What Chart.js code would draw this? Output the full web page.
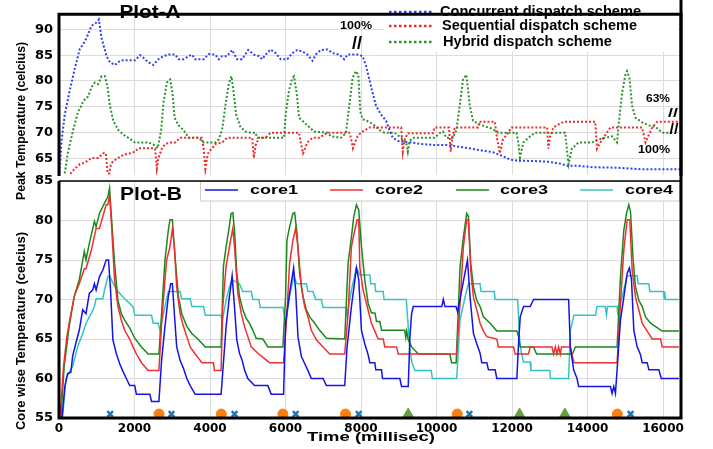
<!DOCTYPE html>
<html>
<head>
<meta charset="utf-8">
<title>Plot-A / Plot-B</title>
<script src="https://cdn.jsdelivr.net/npm/chart.js@4.4.1/dist/chart.umd.min.js"></script>
<style>
  html, body { margin: 0; padding: 0; background: #fff; }
  #wrap { position: relative; width: 713px; height: 449px; }
  #wrap canvas { position: absolute; left: 0; top: 0; }
</style>
</head>
<body>
<div id="wrap">
  <canvas id="plotA" width="713" height="449"></canvas>
  <canvas id="plotB" width="713" height="449"></canvas>
</div>
<script>
// Axis ticks
const timeTicks = [0, 2000, 4000, 6000, 8000, 10000, 12000, 14000, 16000];
const peakTicks = [65, 70, 75, 80, 85, 90];
const coreTicks = [55, 60, 65, 70, 75, 80, 85];

// Plot-A: peak temperature per dispatch scheme, [time ms, celcius]
const schemeNames = ["Concurrent dispatch scheme", "Sequential dispatch scheme", "Hybrid dispatch scheme"];
const concurrent = [[10,61.5],[63,68.1],[152,73.5],[285,78.2],[418,82.4],[551,86.2],[640,87.1],[728,88.3],[861,90.7],[994,91.3],[1056,91.9],[1127,88.3],[1260,84.8],[1349,83.6],[1482,83.1],[1615,83.9],[1704,84],[2014,84],[2147,85],[2236,84.5],[2369,83.6],[2502,83.1],[2635,84.2],[2768,84.8],[2901,85.1],[3078,85.1],[3167,84.2],[3300,84.2],[3433,84.8],[3522,85.1],[3610,84.2],[3832,84.2],[3965,85.2],[4142,85.1],[4231,84.2],[4320,84.8],[4453,84.8],[4585,86],[4718,84.2],[4851,84.2],[5011,86],[5162,85.1],[5295,84.8],[5383,84.2],[5472,85.1],[5605,86.1],[5738,85.4],[5871,84.2],[6048,84.2],[6181,85.4],[6314,86],[6447,85.7],[6580,85.1],[6713,83.9],[6802,85.1],[6935,86],[7112,86.1],[7245,85.4],[7423,85.1],[7556,84.2],[7644,85.1],[7910,85.1],[8043,84.8],[8132,83],[8221,80.3],[8309,77.6],[8398,75.2],[8531,73.5],[8664,72.3],[8753,70.5],[8841,69],[8974,68.4],[9152,68.2],[9329,68.1],[9595,67.8],[9950,67.6],[10304,67.6],[10659,67.2],[10925,66.9],[11147,66.6],[11501,66.2],[11767,65.4],[11945,64.8],[12122,64.6],[12565,64.5],[12920,64.4],[13274,64],[13452,63.6],[13718,63.6],[14161,63.3],[14782,63.2],[15226,63],[15491,62.9],[16450,62.9]];
const sequential = [[300,62],[418,63],[551,63.9],[684,64.2],[861,65.1],[1039,65.1],[1172,66],[1243,66],[1287,62.1],[1331,62.1],[1376,63.9],[1438,64.5],[1571,65.1],[1704,65.7],[1881,66],[2014,66.3],[2103,67],[2458,67],[2546,66.9],[2591,63],[2635,65.1],[2724,66.9],[2813,67.8],[2945,68.1],[3078,68.1],[3211,69],[3788,69],[3832,66.9],[3877,63],[3921,65.1],[3965,66.3],[4054,66.9],[4142,67.8],[4320,68.1],[4453,69],[5118,69],[5162,65.1],[5206,67.5],[5295,69],[5472,69],[5605,70],[6359,70],[6403,68.1],[6465,66],[6518,66.9],[6580,68.1],[6713,69],[6891,69],[7024,69.6],[7112,70],[7689,70],[7733,69],[7786,67],[7840,68.1],[7910,69.3],[7999,70],[8221,71],[9063,71],[9107,66.3],[9150,68.5],[9240,69.9],[9905,69.9],[9950,71],[10330,71],[10375,66.3],[10420,69],[10482,71],[11103,71],[11130,72.1],[11546,72.1],[11600,69],[11679,66],[11750,68.5],[11989,71],[12930,71],[12964,66.9],[13000,69],[13097,71],[13364,72.1],[14206,72.1],[14250,66.9],[14339,68.1],[14605,71],[15447,71],[15536,68.1],[15713,71],[15846,72.1],[16400,72.1]];
const hybrid = [[152,62.1],[241,66.3],[374,70.5],[507,74.1],[595,75.2],[640,76.1],[773,77],[861,78.8],[950,79.7],[1039,79.4],[1127,80.9],[1216,80.9],[1287,78.8],[1349,75.2],[1438,72.3],[1571,70.5],[1704,69.6],[1837,69],[2014,68.1],[2369,68.1],[2546,67.5],[2617,67],[2706,70.5],[2768,75.8],[2857,79.7],[2945,80.3],[3007,77.6],[3060,72.9],[3167,71.4],[3300,70.5],[3433,69],[3699,69],[3832,68.1],[4142,68.1],[4231,68.7],[4320,70.5],[4408,75.2],[4497,79.4],[4568,80.9],[4630,77.6],[4692,73.5],[4807,71.1],[4940,70.2],[5073,70],[5206,70],[5250,69],[5960,69],[6004,73.5],[6093,78.2],[6181,80.6],[6226,80.9],[6297,77.6],[6359,72.9],[6492,72],[6625,71.1],[6758,70.2],[7112,70],[7201,69.3],[7467,69],[7600,69.9],[7689,75.2],[7777,80.6],[7866,81.9],[7928,81.2],[7981,74.1],[8043,72.6],[8176,72.2],[8309,71.7],[8487,70.5],[8620,70],[8886,70],[9063,69],[9196,68.1],[9240,66.3],[9285,68.4],[9373,69],[9950,69],[10083,69.9],[10171,70.2],[10260,69],[10437,69],[10526,70.5],[10615,75.2],[10703,80.3],[10792,81.2],[10881,75.2],[10970,72.3],[11103,71.7],[11280,71.2],[11458,70.8],[11635,70],[12120,70],[12167,68.1],[12211,65.2],[12300,68.1],[12433,69],[12610,70],[13408,70],[13452,66.9],[13497,63.9],[13586,66.9],[13763,68.1],[14117,68.1],[14295,68.7],[14472,69],[14649,69.3],[14782,68.1],[14827,71.7],[14915,77.6],[15004,81.2],[15048,81.9],[15110,80.6],[15181,75.2],[15270,72.9],[15447,72],[15624,71.4],[15802,71.1],[15979,70],[16300,70]];

// Plot-B: per core temperature, [time ms, celcius]
const coreNames = ["core1", "core2", "core3", "core4"];
const core1 = [[80,55],[155,59],[226,60.6],[315,60.8],[360,62.8],[448,64.5],[537,66.1],[627,68.7],[715,68.2],[804,70.8],[893,71.2],[938,72],[983,71.2],[1072,72.9],[1160,73.7],[1250,75],[1312,75],[1365,71.2],[1428,64.9],[1516,63.2],[1605,61.9],[1694,60.9],[1784,60],[1872,59.1],[2006,59.1],[2050,58],[2406,58],[2451,57.1],[2647,57.1],[2718,62.3],[2807,66.6],[2896,70.4],[2958,72],[3003,72],[3056,68.2],[3118,64],[3207,62.3],[3296,61.3],[3386,60],[3475,59.1],[3608,58],[4294,58],[4427,66.6],[4515,70.4],[4586,73],[4648,69.1],[4710,64.9],[4781,63.2],[4852,62.3],[4913,61.1],[5002,60],[5179,59.1],[5533,59.1],[5622,58],[5949,58],[6002,67],[6109,70.8],[6215,74],[6268,71.2],[6330,65.3],[6419,62.8],[6507,61.9],[6596,61],[6684,60],[6994,60],[7083,59.1],[7569,59.1],[7631,64],[7746,69.1],[7879,74],[7941,72.5],[8012,66.1],[8100,64.4],[8189,63],[8233,62],[8366,62],[8392,61.1],[8543,61.1],[8570,60],[9030,60],[9074,59],[9251,59],[9296,65.3],[9340,68.2],[9384,69.1],[10140,69.1],[10180,70],[10225,69.1],[10517,69.1],[10560,68.4],[10700,72],[10820,75],[10889,70.3],[10978,65.7],[11066,64.4],[11154,63.2],[11199,62],[11332,62],[11376,61.1],[11553,61.1],[11597,60],[12128,60],[12173,64.4],[12217,67.8],[12306,69.1],[12483,69.1],[12571,70],[13500,70],[13545,64],[13633,61.1],[13722,60],[13766,59],[14607,59],[14651,58.1],[14696,59],[14740,58.1],[14784,61.1],[14873,67.4],[14962,70.3],[15050,73.3],[15110,74],[15165,72.5],[15227,66.1],[15315,64],[15404,63],[15448,62],[15581,62],[15625,61.1],[15891,61.1],[15953,60],[16420,60]];
const core2 = [[30,55],[119,61.5],[208,65.3],[315,68.2],[404,70.4],[537,72],[671,73.9],[715,73.9],[849,76.1],[983,79],[1072,79],[1160,80.5],[1250,82],[1294,82],[1339,83.2],[1383,80.1],[1472,72.5],[1561,69.1],[1650,67.4],[1739,66.1],[1872,65],[1961,64],[2050,63.1],[2184,62],[2362,61],[2647,61],[2718,67],[2807,72.5],[2852,75],[2940,76.7],[3003,78.9],[3056,76.7],[3118,71.6],[3207,68.2],[3296,66.6],[3386,65.3],[3475,64],[3608,63.1],[3786,62],[4090,62],[4117,61],[4294,61],[4338,69.1],[4427,74.2],[4515,76.7],[4604,79],[4648,76.7],[4736,70.8],[4825,68.3],[4913,66.6],[5002,65.3],[5091,64],[5268,63.2],[5577,62],[5949,62],[6038,68.3],[6109,74.6],[6197,77.5],[6268,79],[6330,76.7],[6419,71.6],[6507,69.1],[6596,67.8],[6684,66.1],[6817,64.9],[6994,64],[7171,63.1],[7569,63.1],[7658,68.3],[7746,76.7],[7835,78.8],[7897,80.1],[7941,80.1],[7968,74.1],[8056,71.2],[8145,69.5],[8233,67.8],[8277,67],[8366,66],[8455,65],[8587,65],[8631,64],[8941,64],[8986,63.1],[10535,63.1],[10623,69.5],[10712,76.7],[10800,80.1],[10845,80.1],[10907,73.7],[10978,70.3],[11066,68.7],[11154,67],[11243,66],[11332,65.3],[11597,65],[11641,64],[12040,64],[12084,63.1],[12438,63.1],[12483,64],[13058,64],[13102,63.1],[13147,64],[13191,63.1],[13235,64],[13279,63.1],[13310,64],[13540,64],[13640,62],[14784,62],[14873,69.5],[14962,76.3],[15050,80.1],[15120,80.1],[15183,73.7],[15271,70.3],[15359,68.7],[15448,67],[15581,66],[15714,65],[15935,65],[15979,64],[16420,64]];
const core3 = [[48,55],[137,61.5],[270,66.6],[404,70.4],[538,72.5],[671,76.1],[715,75],[804,77.1],[938,79.9],[983,79.2],[1072,80.9],[1205,82.2],[1294,83],[1339,84.1],[1383,80.9],[1472,74.6],[1561,69.9],[1650,68.2],[1739,67.4],[1872,66.4],[2006,65.1],[2184,64],[2362,63.1],[2647,63.1],[2718,68.3],[2807,75],[2896,78.8],[2940,80.1],[3003,80.1],[3074,75.4],[3163,70.4],[3252,68.2],[3386,66.6],[3519,65.7],[3697,64.9],[3875,64],[4294,64],[4356,74.2],[4427,76.7],[4497,78.8],[4560,80.9],[4604,81],[4648,78.8],[4710,73.3],[4781,70.4],[4869,68.7],[4958,67.6],[5046,67],[5135,66.1],[5223,65.1],[5400,65],[5533,64],[5932,64],[6002,70.4],[6038,77.5],[6109,79.2],[6197,80.9],[6242,81],[6304,78.4],[6374,73.3],[6463,70.4],[6551,68.7],[6640,67.8],[6773,67],[6905,66.1],[7083,65.1],[7569,65],[7658,74.6],[7746,77.9],[7808,80.5],[7879,82],[7941,81.3],[8012,76.7],[8100,72.5],[8190,69.5],[8278,68.3],[8370,68.3],[8411,67.2],[8500,67.2],[8544,66.1],[9160,66.1],[9185,65.2],[9210,66],[9250,64.9],[9340,64],[9520,63.1],[10350,63.1],[10400,62],[10520,62],[10623,74.1],[10712,77.9],[10800,80.9],[10845,80.5],[10907,74.6],[10978,71.6],[11066,69.9],[11154,69.1],[11243,67.8],[11420,67],[11597,66],[12128,66],[12173,65.3],[12217,64],[12571,64],[12650,63.1],[13600,63.1],[13680,64],[14784,64],[14873,72.9],[14962,78.8],[15033,80.9],[15094,82],[15139,81.1],[15209,75],[15271,71.6],[15359,69.9],[15448,69.1],[15537,67.8],[15670,67],[15979,66],[16420,66]];
const core4 = [[93,55],[181,59.8],[270,60.8],[360,61.5],[493,64],[627,65.7],[716,67],[849,68.2],[938,69.1],[983,70.1],[1160,70.1],[1205,71.2],[1294,72.9],[1339,73],[1428,72.1],[1561,71],[1739,70.1],[1961,69.1],[2006,68],[2451,68],[2496,67],[2629,67],[2674,66.1],[2807,69.1],[2896,71],[3208,71],[3252,70.1],[3475,70.1],[3519,69.1],[3830,69.1],[3875,68],[4294,68],[4320,67.2],[4427,69.9],[4515,71.6],[4586,72.5],[4781,72],[4869,71],[5091,71],[5135,70],[5294,70],[5330,69],[5932,69],[6002,67],[6109,70.4],[6215,72.9],[6304,72],[6551,72],[6596,71],[6728,71],[6799,70],[6950,70],[6994,69],[7596,69],[7631,68],[7746,71.2],[7879,74],[7968,73.1],[8234,73.1],[8260,72],[8367,72],[8390,71],[8588,71],[8610,70],[9200,70],[9260,66],[9300,63.5],[9350,62],[9430,61],[9860,61],[9890,60],[10535,60],[10623,67.4],[10756,70.3],[10845,72],[11154,72],[11180,71],[11530,71],[11554,70],[12150,70],[12200,65],[12240,63.5],[12300,62.1],[12480,62.1],[12500,61],[13000,61],[13020,60],[13500,60],[13545,66.1],[13590,67],[13640,68],[14209,68],[14253,69.1],[14470,69.1],[14502,68],[14530,69.1],[14784,69.1],[14803,68],[14830,69.1],[14900,70],[15000,72],[15050,73],[15316,73],[15340,72],[15626,72],[15650,71],[16010,71],[16030,70.1],[16045,71],[16069,70],[16420,70]];

// Event markers along the bottom of Plot-B (time ms)
const markerLevel = 55.5;
const circleTimes = [2650, 4300, 5930, 7590, 10550, 14790];
const crossTimes = [1355, 2980, 4650, 6270, 7940, 10870, 15140];
const triangleTimes = [9250, 12200, 13400];

const toPoints = arr => arr.map(([x, y]) => ({ x: x, y: y }));
const toMarks = arr => arr.map(x => ({ x: x, y: markerLevel }));

Chart.defaults.color = "#000";
Chart.defaults.animation = false;

// draws text centred on (x, y), stretched to a given length
function putText(ctx, text, x, y, font, length, rotate) {
    ctx.save();
    ctx.translate(x, y);
    if (rotate) ctx.rotate(-Math.PI / 2);
    ctx.font = font;
    const w = ctx.measureText(text).width;
    ctx.scale(length / w, 1);
    ctx.textAlign = "center";
    ctx.textBaseline = "middle";
    ctx.fillStyle = "#000";
    ctx.fillText(text, 0, 0);
    ctx.restore();
}

const xTickFont = { family: "DejaVu Sans", weight: "bold", size: 12 };
const yTickFont = { family: "DejaVu Sans", weight: "bold", size: 13 };
const gridColor = "#dcdcdc";

const plotAExtras = {
    id: "plotAExtras",
    afterDraw(chart) {
        const ctx = chart.ctx;
        const a = chart.chartArea;
        ctx.save();
        // legend area
        ctx.fillStyle = "#fff";
        ctx.fillRect(384, 3, 294, 49);
        const rows = [12, 26, 42];
        const textSpans = [[440, 641], [442, 637], [443, 612]];
        chart.data.datasets.forEach((ds, i) => {
            ctx.strokeStyle = ds.borderColor;
            ctx.lineWidth = 2.5;
            ctx.setLineDash([2.5, 2.5]);
            ctx.beginPath();
            ctx.moveTo(389, rows[i]);
            ctx.lineTo(433, rows[i]);
            ctx.stroke();
            const s = textSpans[i];
            putText(ctx, ds.label, (s[0] + s[1]) / 2, rows[i] + 0.5, "bold 14px 'Liberation Sans'", s[1] - s[0]);
        });
        ctx.setLineDash([]);
        // frame
        ctx.strokeStyle = "#000";
        ctx.lineWidth = 3;
        ctx.beginPath();
        ctx.moveTo(a.left, a.bottom + 1);
        ctx.lineTo(a.left, a.top + 0.5);
        ctx.lineTo(a.right + 1, a.top + 0.5);
        ctx.lineTo(a.right + 1, a.bottom + 1);
        ctx.stroke();
        // labels
        putText(ctx, "Plot-A", 150, 12.5, "bold 19px 'Liberation Sans'", 61);
        putText(ctx, "100%", 356, 26, "bold 11px 'Liberation Sans'", 32);
        putText(ctx, "//", 357, 44, "bold 18px 'Liberation Sans'", 10);
        putText(ctx, "63%", 658, 99, "bold 11px 'Liberation Sans'", 24);
        putText(ctx, "//", 673, 113, "bold 13px 'Liberation Sans'", 10);
        putText(ctx, "//", 674, 130, "bold 15px 'Liberation Sans'", 9);
        putText(ctx, "100%", 654, 150, "bold 11px 'Liberation Sans'", 32);
        putText(ctx, "Peak Temperature (celcius)", 22, 121, "bold 12px 'Liberation Sans'", 158, true);
        ctx.restore();
    }
};

const plotBExtras = {
    id: "plotBExtras",
    afterDraw(chart) {
        const ctx = chart.ctx;
        const a = chart.chartArea;
        ctx.save();
        // legend box
        ctx.fillStyle = "#fff";
        ctx.strokeStyle = "#cccccc";
        ctx.lineWidth = 1;
        ctx.fillRect(200, 182, 479, 19);
        ctx.strokeRect(200.5, 181.5, 479, 19.5);
        const sampleX = [205, 330, 456, 580];
        const textX = [250, 375, 500, 625];
        for (let i = 0; i < 4; i++) {
            const ds = chart.data.datasets[i];
            ctx.strokeStyle = ds.borderColor;
            ctx.lineWidth = 1.5;
            ctx.beginPath();
            ctx.moveTo(sampleX[i], 190);
            ctx.lineTo(sampleX[i] + 33, 190);
            ctx.stroke();
            putText(ctx, ds.label, textX[i] + 24, 190.5, "bold 13px 'Liberation Sans'", 48);
        }
        // frame
        ctx.strokeStyle = "#000";
        ctx.lineWidth = 1.5;
        ctx.beginPath();
        ctx.moveTo(a.left, a.top);
        ctx.lineTo(a.right, a.top);
        ctx.stroke();
        ctx.lineWidth = 3;
        ctx.beginPath();
        ctx.moveTo(a.left, a.top);
        ctx.lineTo(a.left, a.bottom);
        ctx.lineTo(a.right + 1, a.bottom);
        ctx.lineTo(a.right + 1, 0);
        ctx.stroke();
        putText(ctx, "Plot-B", 151, 195, "bold 19px 'Liberation Sans'", 62);
        putText(ctx, "Time (millisec)", 371, 438, "bold 12px 'Liberation Sans'", 128);
        putText(ctx, "Core wise Temperature (celcius)", 22, 331, "bold 12px 'Liberation Sans'", 198, true);
        ctx.restore();
    }
};

function lineSet(label, pts, color, dotted) {
    return {
        type: "line",
        label: label,
        data: toPoints(pts),
        borderColor: color,
        backgroundColor: color,
        borderWidth: dotted ? 2 : 1.5,
        borderDash: dotted ? [2, 2] : [],
        pointRadius: 0,
        tension: 0,
        fill: false,
    };
}

function timeAxis(showTicks, height) {
    return {
        type: "linear",
        min: 0,
        max: 16450,
        afterBuildTicks: s => { s.ticks = timeTicks.map(v => ({ value: v })); },
        afterFit: s => { s.height = height; },
        ticks: {
            display: showTicks, font: xTickFont, padding: 4, maxRotation: 0, autoSkip: false,
            callback: v => String(v),
        },
        grid: { color: gridColor, drawTicks: false },
        border: { display: false },
    };
}

function tempAxis(min, max, values) {
    return {
        min: min,
        max: max,
        afterBuildTicks: s => { s.ticks = values.map(v => ({ value: v })); },
        afterFit: s => { s.width = 59; },
        ticks: { font: yTickFont, padding: 6, callback: v => String(v) },
        grid: { color: gridColor, drawTicks: false },
        border: { display: false },
    };
}

window.plotA = new Chart(document.getElementById("plotA").getContext("2d"), {
    type: "line",
    data: {
        datasets: [
            lineSet(schemeNames[0], concurrent, "#2f3ff0", true),
            lineSet(schemeNames[1], sequential, "#ee2b2b", true),
            lineSet(schemeNames[2], hybrid, "#2a922a", true),
        ],
    },
    options: {
        responsive: false,
        layout: { padding: { top: 1, right: 33, left: 0, bottom: 0 } },
        plugins: { legend: { display: false }, tooltip: { enabled: false } },
        scales: {
            x: timeAxis(false, 274),
            y: tempAxis(61.8, 93, peakTicks),
        },
    },
    plugins: [plotAExtras],
});

window.plotB = new Chart(document.getElementById("plotB").getContext("2d"), {
    type: "line",
    data: {
        datasets: [
            lineSet(coreNames[0], core1, "#1414e6", false),
            lineSet(coreNames[1], core2, "#ee3030", false),
            lineSet(coreNames[2], core3, "#1a881a", false),
            lineSet(coreNames[3], core4, "#35c4c4", false),
            {
                type: "scatter", data: toMarks(circleTimes), pointStyle: "circle",
                pointRadius: 5, backgroundColor: "#ff7f0e", borderColor: "#ff7f0e", clip: false,
            },
            {
                type: "scatter", data: toMarks(crossTimes), pointStyle: "crossRot",
                pointRadius: 4, borderWidth: 2.5, borderColor: "#1f77b4", clip: false,
            },
            {
                type: "scatter", data: toMarks(triangleTimes), pointStyle: "triangle",
                pointRadius: 6, backgroundColor: "#6a9f3f", borderColor: "#6a9f3f", clip: false,
            },
        ],
    },
    options: {
        responsive: false,
        layout: { padding: { top: 181, right: 33, left: 0, bottom: 0 } },
        plugins: { legend: { display: false }, tooltip: { enabled: false } },
        scales: {
            x: timeAxis(true, 31),
            y: tempAxis(55, 85, coreTicks),
        },
    },
    plugins: [plotBExtras],
});
</script>
</body>
</html>
